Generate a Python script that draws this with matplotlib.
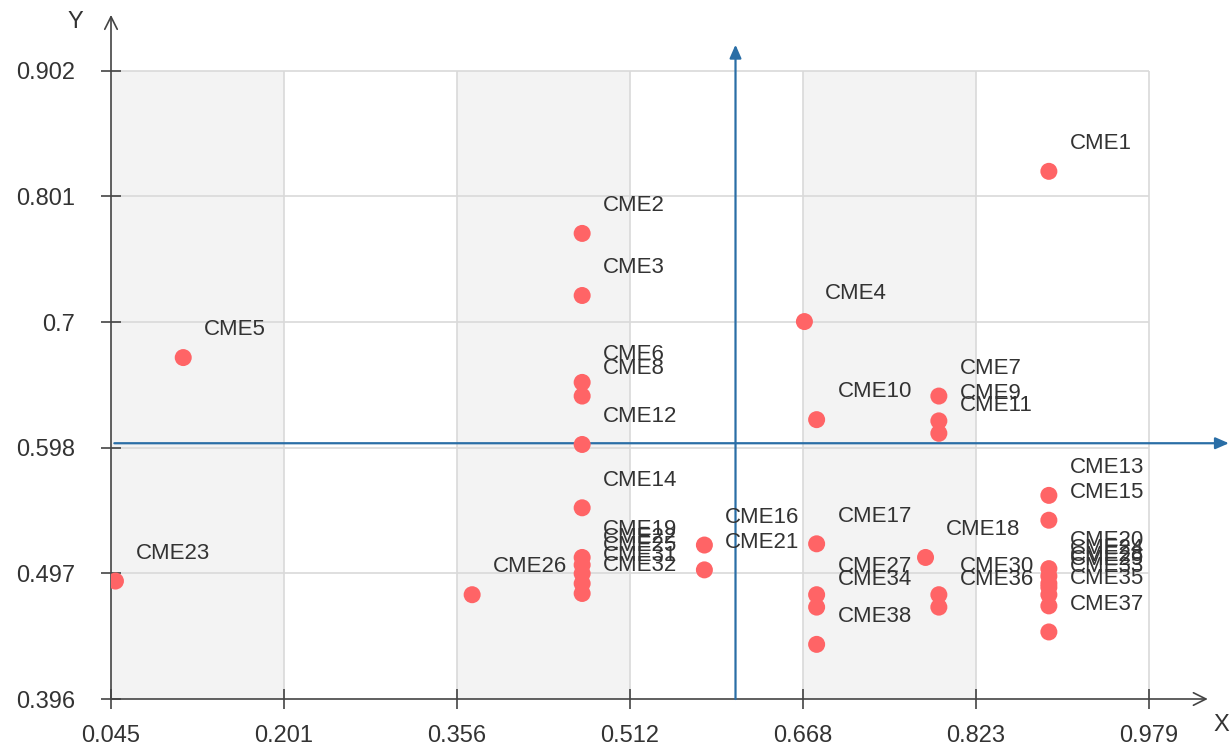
import matplotlib
matplotlib.use("Agg")
import matplotlib.pyplot as plt

plt.rcParams["font.family"] = ["Liberation Sans", "DejaVu Sans"]

# ---------------------------------------------------------------------------
# Data
# ---------------------------------------------------------------------------
labels = [f"CME{i}" for i in range(1, 39)]
x_vals = [0.889, 0.469, 0.469, 0.669, 0.110, 0.469, 0.790, 0.469, 0.790, 0.680,
          0.790, 0.469, 0.889, 0.469, 0.889, 0.579, 0.680, 0.778, 0.469, 0.889,
          0.579, 0.469, 0.049, 0.889, 0.469, 0.370, 0.680, 0.889, 0.889, 0.790,
          0.469, 0.469, 0.889, 0.680, 0.889, 0.790, 0.889, 0.680]
y_vals = [0.821, 0.771, 0.721, 0.700, 0.671, 0.651, 0.640, 0.640, 0.620, 0.621,
          0.610, 0.601, 0.560, 0.550, 0.540, 0.520, 0.521, 0.510, 0.510, 0.501,
          0.500, 0.504, 0.491, 0.495, 0.497, 0.480, 0.480, 0.489, 0.486, 0.480,
          0.489, 0.481, 0.480, 0.470, 0.471, 0.470, 0.450, 0.440]

x_ticks = [0.045, 0.2007, 0.3563, 0.512, 0.6677, 0.8233, 0.979]
x_tick_labels = ["0.045", "0.201", "0.356", "0.512", "0.668", "0.823", "0.979"]
y_ticks = [0.396, 0.4972, 0.5984, 0.6996, 0.8008, 0.902]
y_tick_labels = ["0.396", "0.497", "0.598", "0.7", "0.801", "0.902"]

x_split = 0.607   # vertical quadrant line
y_split = 0.602   # horizontal quadrant line

# ---------------------------------------------------------------------------
# Figure
# ---------------------------------------------------------------------------
fig = plt.figure(figsize=(12.3, 7.47), dpi=100)
ax = fig.add_axes([111 / 1230, 48 / 747, 1 - 111 / 1230, 1 - 48 / 747])
ax.set_xlim(0.045, 1.052)
ax.set_ylim(0.396, 0.959)
for s in ax.spines.values():
    s.set_visible(False)

# alternating bands
for i in range(0, len(x_ticks) - 1, 2):
    ax.axvspan(x_ticks[i], x_ticks[i + 1], ymin=0, ymax=(0.902 - 0.396) / (0.959 - 0.396),
               color="#f3f3f3", zorder=0, lw=0)

# grid
ax.vlines(x_ticks[1:], 0.396, 0.902, color="#d9d9d9", lw=1.2, zorder=1)
ax.hlines(y_ticks[1:], 0.045, 0.979, color="#d9d9d9", lw=1.2, zorder=1)

# axes with open arrows
arrow_k = dict(arrowstyle="->,head_length=0.9,head_width=0.45", color="#444444", lw=1.2,
               shrinkA=0, shrinkB=0)
ax.annotate("", xy=(0.045, 0.947), xytext=(0.045, 0.396), arrowprops=arrow_k, zorder=3)
ax.annotate("", xy=(1.032, 0.396), xytext=(0.045, 0.396), arrowprops=arrow_k, zorder=3,
            annotation_clip=False)

# quadrant lines
arrow_b = dict(arrowstyle="-|>,head_length=0.8,head_width=0.35", color="#2a6ea6", lw=1.6,
               shrinkA=0, shrinkB=0)
ax.annotate("", xy=(x_split, 0.923), xytext=(x_split, 0.396), arrowprops=arrow_b, zorder=4)
ax.annotate("", xy=(1.051, y_split), xytext=(0.048, y_split), arrowprops=arrow_b, zorder=4,
            annotation_clip=False)

# points + labels
ax.scatter(x_vals, y_vals, s=150, color="#ff6466", edgecolors="none", zorder=5)
for lab, xv, yv in zip(labels, x_vals, y_vals):
    ax.annotate(lab, (xv, yv), xytext=(15, 20), textcoords="offset points",
                fontsize=16, color="#333333", ha="left", va="center", zorder=6)

# ticks
ax.set_xticks(x_ticks)
ax.set_xticklabels(x_tick_labels)
ax.set_yticks(y_ticks)
ax.set_yticklabels(y_tick_labels)
ax.tick_params(direction="inout", length=14, width=1.2, color="#444444",
               labelsize=17, labelcolor="#333333")
ax.tick_params(axis="x", pad=12)
ax.tick_params(axis="y", pad=19)

fig.text(75 / 1230, 1 - 22 / 747, "Y", fontsize=17, color="#333333", ha="center", va="center")
fig.text(1221 / 1230, 1 - 725 / 747, "X", fontsize=17, color="#333333", ha="center", va="center")

fig.savefig("out.png", dpi=100)
